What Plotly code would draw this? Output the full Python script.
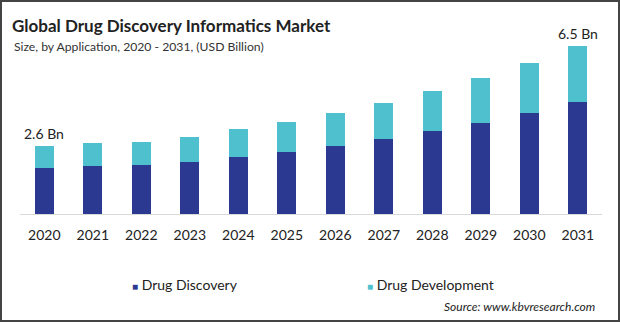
import plotly.graph_objects as go

years = ["2020", "2021", "2022", "2023", "2024", "2025",
         "2026", "2027", "2028", "2029", "2030", "2031"]
drug_discovery = [1.76, 1.85, 1.88, 1.99, 2.18, 2.37, 2.60, 2.88, 3.19, 3.49, 3.87, 4.31]
drug_development = [0.86, 0.87, 0.88, 0.97, 1.08, 1.18, 1.27, 1.38, 1.53, 1.73, 1.93, 2.15]
label_years = ["2020", "2031"]
label_texts = ["2.6 Bn", "6.5 Bn"]

C_DARK = "#2B3990"
C_LIGHT = "#4FC1CE"
FONT = "Lato"

W, H = 620, 322
ML, MR, MT, MB = 20, 18, 30, 108
PW, PH = W - ML - MR, H - MT - MB


def px_x(px):
    return (px - ML) / PW


def px_y(py):
    return (H - MB - py) / PH


fig = go.Figure()
fig.add_trace(go.Bar(x=years, y=drug_discovery, name="Drug Discovery",
                     marker=dict(color=C_DARK, line=dict(width=0)), showlegend=False))
fig.add_trace(go.Bar(x=years, y=drug_development, name="Drug Development",
                     marker=dict(color=C_LIGHT, line=dict(width=0)), showlegend=False))

annotations = []
for yr, txt in zip(label_years, label_texts):
    i = years.index(yr)
    annotations.append(dict(x=i, y=drug_discovery[i] + drug_development[i],
                            xref="x", yref="y", text=txt,
                            showarrow=False, yanchor="bottom", yshift=2,
                            font=dict(family=FONT, size=14, color="#222")))

# subtitle
annotations.append(dict(x=px_x(12), y=px_y(46), xref="paper", yref="paper",
                        xanchor="left", yanchor="middle", showarrow=False,
                        text="Size, by Application, 2020 - 2031, (USD Billion)",
                        font=dict(family=FONT, size=12.2, color="#333")))
# legend (manual)
annotations.append(dict(x=px_x(130), y=px_y(284), xref="paper", yref="paper",
                        xanchor="left", yanchor="middle", showarrow=False,
                        text=f"<span style='color:{C_DARK};font-size:10px'>■</span> Drug Discovery",
                        font=dict(family=FONT, size=14, color="#222")))
annotations.append(dict(x=px_x(365), y=px_y(284), xref="paper", yref="paper",
                        xanchor="left", yanchor="middle", showarrow=False,
                        text=f"<span style='color:{C_LIGHT};font-size:10px'>■</span> Drug Development",
                        font=dict(family=FONT, size=14, color="#222")))
# source
annotations.append(dict(x=px_x(597), y=px_y(306), xref="paper", yref="paper",
                        xanchor="right", yanchor="middle", showarrow=False,
                        text="<i>Source: www.kbvresearch.com</i>",
                        font=dict(family=FONT, size=12, color="#222")))

fig.update_layout(
    width=W, height=H,
    margin=dict(l=ML, r=MR, t=MT, b=MB),
    paper_bgcolor="white", plot_bgcolor="white",
    barmode="stack", bargap=0.6,
    title=dict(text="<b>Global Drug Discovery Informatics Market</b>",
               xref="container", yref="container", x=12 / W, y=1 - 26.5 / H,
               xanchor="left", yanchor="middle",
               font=dict(family=FONT, size=17, color="#222")),
    xaxis=dict(type="category", range=[-0.5, 11.5], showline=True,
               linecolor="#d9d9d9", linewidth=1, showgrid=False,
               ticks="outside", ticklen=8, tickcolor="rgba(0,0,0,0)",
               tickfont=dict(family=FONT, size=14, color="#222")),
    yaxis=dict(visible=False, range=[0, PH / 26.0]),
    annotations=annotations,
    shapes=[dict(type="rect", xref="paper", yref="paper",
                 x0=px_x(1), x1=px_x(619), y0=px_y(321), y1=px_y(1),
                 line=dict(color="#444", width=2), fillcolor="rgba(0,0,0,0)")],
)

fig.write_html("out.html")
